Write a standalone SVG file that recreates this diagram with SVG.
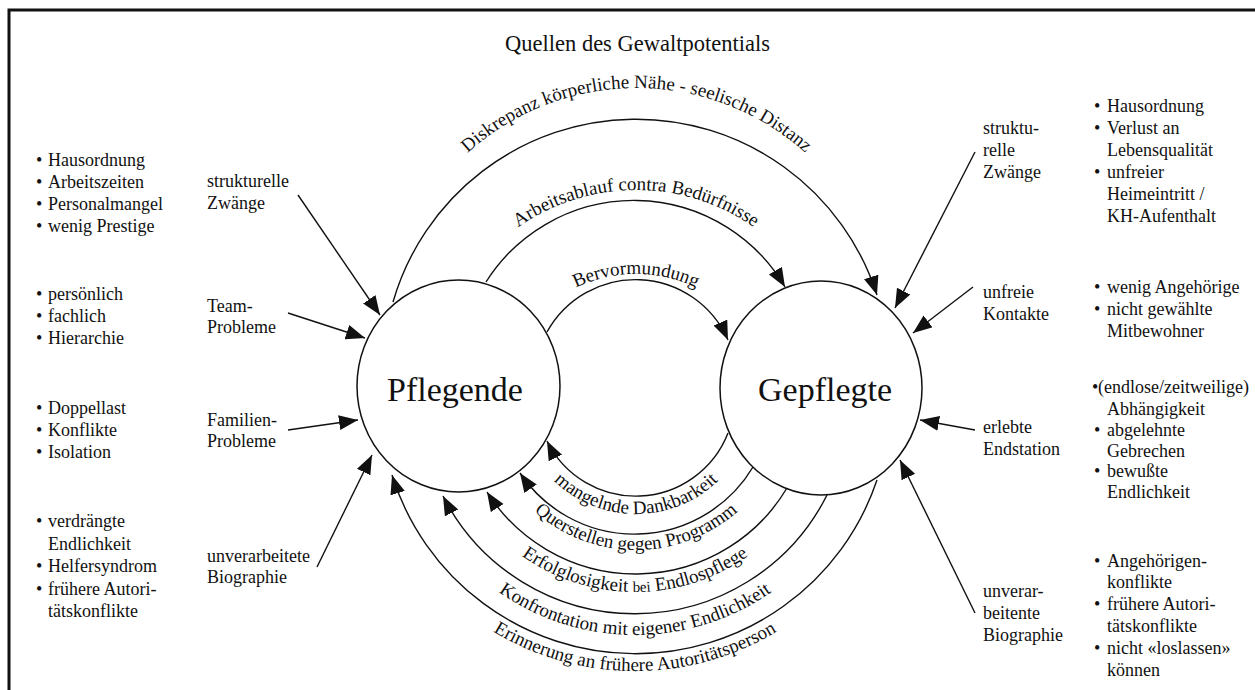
<svg xmlns="http://www.w3.org/2000/svg" xmlns:xlink="http://www.w3.org/1999/xlink" width="1255" height="690" viewBox="0 0 1255 690">
<style>
text{font-family:"Liberation Serif","Times New Roman",serif;fill:#111}
.t{font-size:18px}
.arc{font-size:19px}
.big{font-size:34px}
.title{font-size:22.5px}
.ln{fill:none;stroke:#111;stroke-width:1.4}
.node{fill:#fff;stroke:#111;stroke-width:1.5}
</style>
<defs>
<marker id="ah" markerUnits="userSpaceOnUse" markerWidth="20" markerHeight="16" refX="19" refY="7.5" orient="auto">
<path d="M0,0 L19,7.5 L0,15 z" fill="#111"/>
</marker>
<path id="tpD" d="M384.5,340 A252,252 0 0 1 888.5,340"/>
<path id="tpA" d="M431,395 A205,205 0 0 1 841,395"/>
<path id="tpB" d="M496,414 A140,140 0 0 1 776,414"/>
<path id="tp1" d="M518,396 A118,118 0 0 0 754,396"/>
<path id="tp2" d="M483,397 A153,153 0 0 0 789,397"/>
<path id="tp3" d="M440,397 A195,195 0 0 0 830,397"/>
<path id="tp4" d="M397,397 A238,238 0 0 0 873,397"/>
<path id="tp5" d="M361,397 A274,274 0 0 0 909,397"/>
</defs>
<rect width="1255" height="690" fill="#fff"/>
<g id="frame">
<path d="M9,690 L9,10 L1255,10" fill="none" stroke="#111" stroke-width="3"/>
</g>
<text id="title" class="title" x="637.5" y="51" text-anchor="middle">Quellen des Gewaltpotentials</text>

<g id="connectors">
<path class="ln" d="M393,302 A253,253 0 0 1 877,295" marker-end="url(#ah)"/>
<path class="ln" d="M486,282 A175,175 0 0 1 785,287" marker-end="url(#ah)"/>
<path class="ln" d="M547,332 A101,101 0 0 1 728,340" marker-end="url(#ah)"/>
<path class="ln" d="M728,433 A99,99 0 0 1 547,441" marker-end="url(#ah)"/>
<path class="ln" d="M753,467 A138,138 0 0 1 520,473" marker-end="url(#ah)"/>
<path class="ln" d="M787,488 A176,176 0 0 1 487,492" marker-end="url(#ah)"/>
<path class="ln" d="M827,495 A215,215 0 0 1 443,496" marker-end="url(#ah)"/>
<path class="ln" d="M877,480 A255,255 0 0 1 392,475" marker-end="url(#ah)"/>
<path class="ln" d="M298,195 L380,315" marker-end="url(#ah)"/>
<path class="ln" d="M288,313 L365,338" marker-end="url(#ah)"/>
<path class="ln" d="M288,430 L358,420" marker-end="url(#ah)"/>
<path class="ln" d="M317,567 L372,455" marker-end="url(#ah)"/>
<path class="ln" d="M975,152 L895,308" marker-end="url(#ah)"/>
<path class="ln" d="M973,287 L913,333" marker-end="url(#ah)"/>
<path class="ln" d="M975,430 L920,420" marker-end="url(#ah)"/>
<path class="ln" d="M975,613 L900,460" marker-end="url(#ah)"/>
</g>

<g id="connector-labels">
<text class="arc"><textPath xlink:href="#tpD" href="#tpD" startOffset="50%" text-anchor="middle">Diskrepanz körperliche Nähe - seelische Distanz</textPath></text>
<text class="arc"><textPath xlink:href="#tpA" href="#tpA" startOffset="50%" text-anchor="middle">Arbeitsablauf contra Bedürfnisse</textPath></text>
<text class="arc"><textPath xlink:href="#tpB" href="#tpB" startOffset="50%" text-anchor="middle">Bervormundung</textPath></text>
<text class="arc"><textPath xlink:href="#tp1" href="#tp1" startOffset="50%" text-anchor="middle">mangelnde Dankbarkeit</textPath></text>
<text class="arc"><textPath xlink:href="#tp2" href="#tp2" startOffset="50%" text-anchor="middle">Querstellen gegen Programm</textPath></text>
<text class="arc"><textPath xlink:href="#tp3" href="#tp3" startOffset="50%" text-anchor="middle">Erfolglosigkeit <tspan style="font-size:15px">bei</tspan> Endlospflege</textPath></text>
<text class="arc"><textPath xlink:href="#tp4" href="#tp4" startOffset="50%" text-anchor="middle">Konfrontation mit eigener Endlichkeit</textPath></text>
<text class="arc"><textPath xlink:href="#tp5" href="#tp5" startOffset="50%" text-anchor="middle">Erinnerung an frühere Autoritätsperson</textPath></text>
</g>

<g id="node-pflegende">
<ellipse class="node" cx="458.5" cy="386" rx="101.5" ry="106"/>
<text class="big" x="387" y="401">Pflegende</text>
</g>
<g id="node-gepflegte">
<ellipse class="node" cx="821" cy="388" rx="101" ry="107"/>
<text class="big" x="758" y="401">Gepflegte</text>
</g>

<g id="left-sources" class="t">
<text class="t" x="207" y="187">strukturelle</text>
<text class="t" x="207" y="209">Zwänge</text>
<text class="t" x="207" y="312">Team-</text>
<text class="t" x="207" y="333">Probleme</text>
<text class="t" x="207" y="426">Familien-</text>
<text class="t" x="207" y="447">Probleme</text>
<text class="t" x="207" y="562">unverarbeitete</text>
<text class="t" x="207" y="583">Biographie</text>
</g>

<g id="left-list-1">
<text class="t" x="36" y="166">•</text><text class="t" x="48" y="166">Hausordnung</text>
<text class="t" x="36" y="188">•</text><text class="t" x="48" y="188">Arbeitszeiten</text>
<text class="t" x="36" y="210">•</text><text class="t" x="48" y="210">Personalmangel</text>
<text class="t" x="36" y="232">•</text><text class="t" x="48" y="232">wenig Prestige</text>
</g>
<g id="left-list-2">
<text class="t" x="36" y="300">•</text><text class="t" x="48" y="300">persönlich</text>
<text class="t" x="36" y="322">•</text><text class="t" x="48" y="322">fachlich</text>
<text class="t" x="36" y="344">•</text><text class="t" x="48" y="344">Hierarchie</text>
</g>
<g id="left-list-3">
<text class="t" x="36" y="414">•</text><text class="t" x="48" y="414">Doppellast</text>
<text class="t" x="36" y="436">•</text><text class="t" x="48" y="436">Konflikte</text>
<text class="t" x="36" y="458">•</text><text class="t" x="48" y="458">Isolation</text>
</g>
<g id="left-list-4">
<text class="t" x="36" y="527">•</text><text class="t" x="48" y="527">verdrängte</text>
<text class="t" x="48" y="550">Endlichkeit</text>
<text class="t" x="36" y="572">•</text><text class="t" x="48" y="572">Helfersyndrom</text>
<text class="t" x="36" y="595">•</text><text class="t" x="48" y="595">frühere Autori-</text>
<text class="t" x="48" y="617">tätskonflikte</text>
</g>

<g id="right-sources">
<text class="t" x="983" y="134">struktu-</text>
<text class="t" x="983" y="156">relle</text>
<text class="t" x="983" y="178">Zwänge</text>
<text class="t" x="983" y="298">unfreie</text>
<text class="t" x="983" y="320">Kontakte</text>
<text class="t" x="983" y="433">erlebte</text>
<text class="t" x="983" y="455">Endstation</text>
<text class="t" x="983" y="597">unverar-</text>
<text class="t" x="983" y="619">beitente</text>
<text class="t" x="983" y="641">Biographie</text>
</g>

<g id="right-list-1">
<text class="t" x="1094" y="112">•</text><text class="t" x="1107" y="112">Hausordnung</text>
<text class="t" x="1094" y="134">•</text><text class="t" x="1107" y="134">Verlust an</text>
<text class="t" x="1107" y="156">Lebensqualität</text>
<text class="t" x="1094" y="178">•</text><text class="t" x="1107" y="178">unfreier</text>
<text class="t" x="1107" y="200">Heimeintritt /</text>
<text class="t" x="1107" y="222">KH-Aufenthalt</text>
</g>
<g id="right-list-2">
<text class="t" x="1094" y="293">•</text><text class="t" x="1107" y="293">wenig Angehörige</text>
<text class="t" x="1094" y="315">•</text><text class="t" x="1107" y="315">nicht gewählte</text>
<text class="t" x="1107" y="337">Mitbewohner</text>
</g>
<g id="right-list-3">
<text class="t" x="1092" y="393">•</text><text class="t" x="1098" y="393">(endlose/zeitweilige)</text>
<text class="t" x="1107" y="415">Abhängigkeit</text>
<text class="t" x="1094" y="436">•</text><text class="t" x="1107" y="436">abgelehnte</text>
<text class="t" x="1107" y="457">Gebrechen</text>
<text class="t" x="1094" y="477">•</text><text class="t" x="1107" y="477">bewußte</text>
<text class="t" x="1107" y="498">Endlichkeit</text>
</g>
<g id="right-list-4">
<text class="t" x="1094" y="567">•</text><text class="t" x="1107" y="567">Angehörigen-</text>
<text class="t" x="1107" y="588">konflikte</text>
<text class="t" x="1094" y="610">•</text><text class="t" x="1107" y="610">frühere Autori-</text>
<text class="t" x="1107" y="632">tätskonflikte</text>
<text class="t" x="1094" y="654">•</text><text class="t" x="1107" y="654">nicht «loslassen»</text>
<text class="t" x="1107" y="676">können</text>
</g>
</svg>
